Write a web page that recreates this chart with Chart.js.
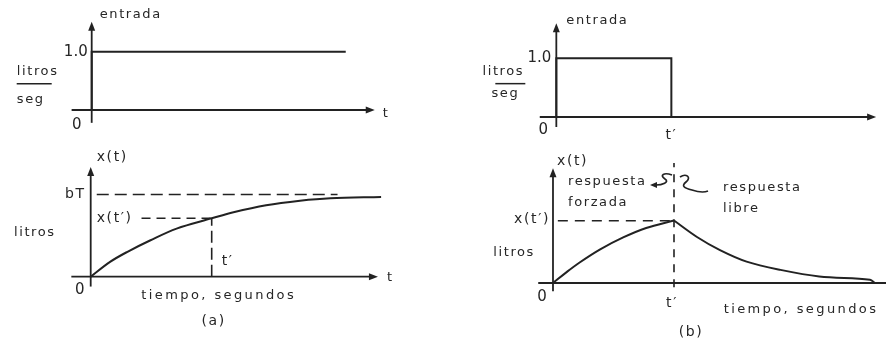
<!DOCTYPE html>
<html>
<head>
<meta charset="utf-8">
<script src="https://cdn.jsdelivr.net/npm/chart.js@4.4.1/dist/chart.umd.min.js"></script>
<style>
  body { margin: 0; background: #fff; width: 886px; height: 340px; overflow: hidden; position: relative; }
  canvas { position: absolute; }
</style>
</head>
<body>
<canvas id="entradaA" width="443" height="150" style="left:0;top:0"></canvas>
<canvas id="entradaB" width="443" height="150" style="left:443px;top:0"></canvas>
<canvas id="salidaA" width="443" height="190" style="left:0;top:150px"></canvas>
<canvas id="salidaB" width="443" height="190" style="left:443px;top:150px"></canvas>
<script>
// entrada (a): escalon de 1.0 litros/seg
let entradaA_t = [0, 0, 10.5];
let entradaA_v = [0, 1, 1];
// entrada (b): pulso que termina en t'
let entradaB_t = [0, 0, 5, 5];
let entradaB_v = [0, 1, 1, 0];
// x(t) en (a)
let xA_t = [0, 0.8, 1.5, 2.45, 3.55, 5, 5.9, 7.25, 8.65, 9.9, 12];
let xA_v = [0, 0.18, 0.3, 0.44, 0.585, 0.71, 0.785, 0.87, 0.925, 0.955, 0.97];
// x(t) en (b): respuesta forzada y respuesta libre
let forzada_t = [0, 0.55, 1.1, 1.95, 2.9, 3.85, 5];
let forzada_v = [0, 0.13, 0.25, 0.41, 0.555, 0.67, 0.76];
let libre_t = [5, 5.95, 6.9, 8, 9.4, 11, 13.1, 13.3];
let libre_v = [0.76, 0.56, 0.40, 0.26, 0.16, 0.08, 0.04, 0];
let tPrima = 5;
let bT = 1;

const INK = '#222';
const TEXT = '#262626';
const FONT = '"DejaVu Sans", sans-serif';

function pts(t, v){
  return t.map(function(x, i){ return {x: x, y: v[i]}; });
}

// each panel: axes, dashed guides and text, positioned from the scales
const panels = {
  entradaA: {
    x: [-3.79, 14.52], y: [-0.686, 1.887],
    yAxis: [-0.22, 1.515], xAxis: [-0.83, 11.7, true],
    dashes: [],
    labels: [
      {t:'entrada', x:0, y:1.515, dx:8, dy:-7, a:'left'},
      {t:'1.0', x:0, y:1, dx:-4, dy:0, a:'right', size:15, ls:0},
      {t:'litros', x:0, y:0.5, dx:-54, dy:-9, a:'center'},
      {t:'seg', x:0, y:0.5, dx:-61, dy:19, a:'center'},
      {t:'0', x:0, y:0, dx:-15, dy:15, a:'center', size:15, ls:0},
      {t:'t', x:11.7, y:0, dx:8, dy:4, a:'left'}
    ],
    bar: {x:0, y:0.5, dx1:-75, dx2:-40, dy:3}
  },
  entradaB: {
    x: [-4.926, 14.33], y: [-0.562, 1.993],
    yAxis: [-0.17, 1.596], xAxis: [-0.72, 13.9, true],
    dashes: [],
    labels: [
      {t:'entrada', x:0, y:1.596, dx:10, dy:-3, a:'left'},
      {t:'1.0', x:0, y:1, dx:-5, dy:0, a:'right', size:15, ls:0},
      {t:'litros', x:0, y:0.5, dx:-53, dy:-16, a:'center'},
      {t:'seg', x:0, y:0.5, dx:-51, dy:6, a:'center'},
      {t:'0', x:0, y:0, dx:-13, dy:13, a:'center', size:15, ls:0},
      {t:'t\u2032', x:tPrima, y:0, dx:0, dy:18, a:'center', size:14}
    ],
    bar: {x:0, y:0.5, dx1:-61, dx2:-31, dy:-4}
  },
  salidaA: {
    x: [-3.748, 14.558], y: [-0.77, 1.541],
    yAxis: [-0.12, 1.335], xAxis: [-0.8, 11.87, true],
    dashes: [
      {x1:0.25, y1:bT, x2:10.2, y2:bT, d:[12, 6]},
      {x1:2.1, y1:0.71, x2:tPrima, y2:0.71, d:[9, 6]},
      {x1:tPrima, y1:0, x2:tPrima, y2:0.71, d:[12, 5]}
    ],
    labels: [
      {t:'x(t)', x:0, y:1.335, dx:6, dy:-10, a:'left', size:14},
      {t:'bT', x:0, y:bT, dx:-5, dy:0, a:'right', size:14},
      {t:'x(t\u2032)', x:0, y:0.71, dx:6, dy:0, a:'left', size:14},
      {t:'t\u2032', x:tPrima, y:0, dx:10, dy:-15, a:'left', size:14},
      {t:'litros', x:0, y:0.5, dx:-35, dy:-3, a:'right'},
      {t:'0', x:0, y:0, dx:-11, dy:13, a:'center', size:15, ls:0},
      {t:'tiempo, segundos', x:tPrima, y:0, dx:7, dy:19, a:'center', ls:2.4},
      {t:'(a)', x:tPrima, y:0, dx:2, dy:45, a:'center', size:14},
      {t:'t', x:11.87, y:0, dx:9, dy:1, a:'left'}
    ]
  },
  salidaB: {
    x: [-4.545, 13.76], y: [-0.693, 1.618],
    yAxis: [-0.1, 1.395], xAxis: [-0.61, 13.76, false],
    dashes: [
      {x1:tPrima, y1:-0.05, x2:tPrima, y2:1.46, d:[8, 7]},
      {x1:0.2, y1:0.758, x2:4.9, y2:0.758, d:[10, 7]}
    ],
    labels: [
      {t:'x(t)', x:0, y:1.395, dx:4, dy:-7, a:'left', size:14},
      {t:'respuesta', x:0, y:0, dx:15, dy:-101, a:'left'},
      {t:'forzada', x:0, y:0, dx:15, dy:-80, a:'left'},
      {t:'respuesta', x:tPrima, y:0, dx:49, dy:-95, a:'left'},
      {t:'libre', x:tPrima, y:0, dx:49, dy:-74, a:'left'},
      {t:'x(t\u2032)', x:0, y:0.758, dx:-3, dy:-1, a:'right', size:14},
      {t:'litros', x:0, y:0.5, dx:-18, dy:11, a:'right'},
      {t:'0', x:0, y:0, dx:-11, dy:14, a:'center', size:15, ls:0},
      {t:'t\u2032', x:tPrima, y:0, dx:-2, dy:20, a:'center', size:14},
      {t:'tiempo, segundos', x:tPrima, y:0, dx:127, dy:27, a:'center', ls:2.4},
      {t:'(b)', x:tPrima, y:0, dx:17, dy:49, a:'center', size:14}
    ],
    squiggles: true
  }
};

function arrowHead(ctx, x, y, dir){
  // dir: 'up', 'right', 'left'
  ctx.beginPath();
  if(dir == 'up'){ ctx.moveTo(x, y); ctx.lineTo(x - 3.5, y + 9); ctx.lineTo(x + 3.5, y + 9); }
  if(dir == 'right'){ ctx.moveTo(x, y); ctx.lineTo(x - 9, y - 3.5); ctx.lineTo(x - 9, y + 3.5); }
  if(dir == 'left'){ ctx.moveTo(x, y); ctx.lineTo(x + 7, y - 3); ctx.lineTo(x + 7, y + 3); }
  ctx.closePath();
  ctx.fill();
}

const panelPlugin = {
  id: 'panel',
  beforeDatasetsDraw(chart){
    const p = panels[chart.canvas.id];
    const sx = chart.scales.x, sy = chart.scales.y;
    const ctx = chart.ctx;
    ctx.save();
    ctx.strokeStyle = INK;
    ctx.fillStyle = INK;
    ctx.lineWidth = 1.8;
    // y axis
    const x0 = sx.getPixelForValue(0);
    const y0 = sy.getPixelForValue(0);
    ctx.beginPath();
    ctx.moveTo(x0, sy.getPixelForValue(p.yAxis[0]));
    ctx.lineTo(x0, sy.getPixelForValue(p.yAxis[1]) + 6);
    ctx.stroke();
    arrowHead(ctx, x0, sy.getPixelForValue(p.yAxis[1]), 'up');
    // x axis
    const xe = sx.getPixelForValue(p.xAxis[1]);
    ctx.beginPath();
    ctx.moveTo(sx.getPixelForValue(p.xAxis[0]), y0);
    ctx.lineTo(p.xAxis[2] ? xe - 6 : xe, y0);
    ctx.stroke();
    if(p.xAxis[2]) arrowHead(ctx, xe, y0, 'right');
    // dashed guides
    ctx.lineWidth = 1.6;
    p.dashes.forEach(function(d){
      ctx.setLineDash(d.d);
      ctx.beginPath();
      ctx.moveTo(sx.getPixelForValue(d.x1), sy.getPixelForValue(d.y1));
      ctx.lineTo(sx.getPixelForValue(d.x2), sy.getPixelForValue(d.y2));
      ctx.stroke();
    });
    ctx.setLineDash([]);
    ctx.restore();
  },
  afterDatasetsDraw(chart){
    const p = panels[chart.canvas.id];
    const sx = chart.scales.x, sy = chart.scales.y;
    const ctx = chart.ctx;
    ctx.save();
    ctx.fillStyle = TEXT;
    ctx.textBaseline = 'middle';
    p.labels.forEach(function(l){
      ctx.font = (l.size || 13) + 'px ' + FONT;
      ctx.letterSpacing = (l.ls === undefined ? 1.6 : l.ls) + 'px';
      ctx.textAlign = l.a;
      ctx.fillText(l.t, sx.getPixelForValue(l.x) + l.dx, sy.getPixelForValue(l.y) + l.dy);
    });
    ctx.strokeStyle = INK;
    ctx.fillStyle = INK;
    if(p.bar){
      const bx = sx.getPixelForValue(p.bar.x), by = sy.getPixelForValue(p.bar.y) + p.bar.dy;
      ctx.lineWidth = 1.5;
      ctx.beginPath();
      ctx.moveTo(bx + p.bar.dx1, by);
      ctx.lineTo(bx + p.bar.dx2, by);
      ctx.stroke();
    }
    if(p.squiggles){
      const ax = sx.getPixelForValue(tPrima), ay = sy.getPixelForValue(0);
      ctx.lineWidth = 1.7;
      ctx.beginPath();
      ctx.moveTo(ax - 2, ay - 108);
      ctx.bezierCurveTo(ax - 10, ay - 111, ax - 15, ay - 108, ax - 9, ay - 104);
      ctx.bezierCurveTo(ax - 4, ay - 101, ax - 12, ay - 98, ax - 18, ay - 98);
      ctx.stroke();
      arrowHead(ctx, ax - 24, ay - 98, 'left');
      ctx.beginPath();
      ctx.moveTo(ax + 6, ay - 106);
      ctx.bezierCurveTo(ax + 12, ay - 110, ax + 18, ay - 106, ax + 12, ay - 101);
      ctx.bezierCurveTo(ax + 7, ay - 97, ax + 10, ay - 95, ax + 18, ay - 93);
      ctx.bezierCurveTo(ax + 24, ay - 91, ax + 29, ay - 90, ax + 34, ay - 92);
      ctx.stroke();
    }
    ctx.restore();
  }
};

function line(t, v, smooth){
  return {
    data: pts(t, v),
    borderColor: INK,
    borderWidth: 2,
    pointRadius: 0,
    fill: false,
    tension: smooth ? 0.35 : 0
  };
}

function draw_panel(id, datasets){
  const p = panels[id];
  new Chart(id, {
    type: 'line',
    data: { datasets: datasets },
    options: {
      responsive: false,
      animation: false,
      events: [],
      layout: { padding: 0 },
      plugins: { legend: { display: false }, tooltip: { enabled: false } },
      scales: {
        x: { type: 'linear', min: p.x[0], max: p.x[1], display: false },
        y: { type: 'linear', min: p.y[0], max: p.y[1], display: false }
      }
    },
    plugins: [panelPlugin]
  });
}

function init(){
  draw_panel('entradaA', [line(entradaA_t, entradaA_v, false)]);
  draw_panel('entradaB', [line(entradaB_t, entradaB_v, false)]);
  draw_panel('salidaA', [line(xA_t, xA_v, true)]);
  draw_panel('salidaB', [line(forzada_t, forzada_v, true), line(libre_t, libre_v, true)]);
}
init();
</script>
</body>
</html>
